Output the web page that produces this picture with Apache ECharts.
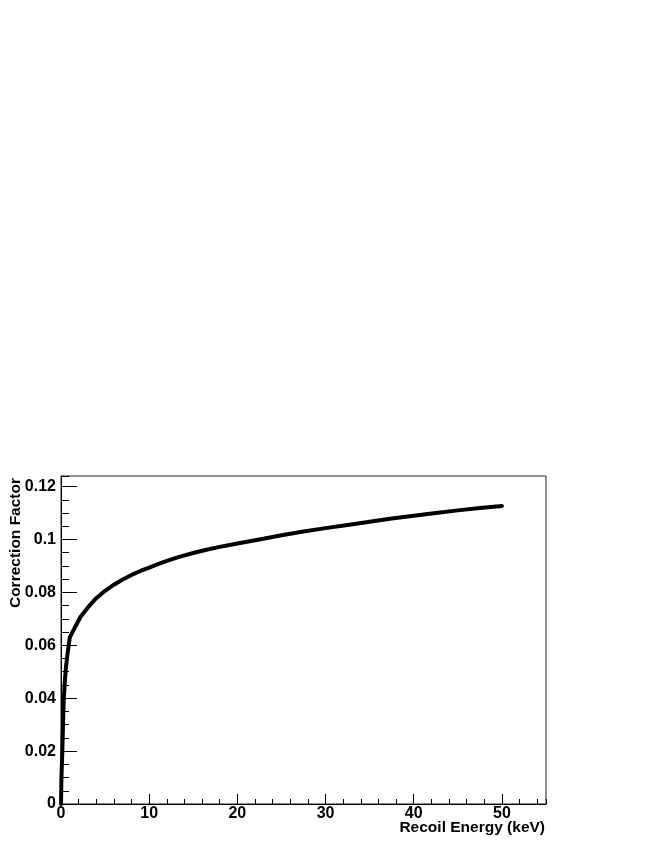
<!DOCTYPE html>
<html>
<head>
<meta charset="utf-8">
<script src="https://cdn.jsdelivr.net/npm/echarts@6/dist/echarts.min.js"></script>
<style>
  html, body { margin: 0; padding: 0; background: #fff; }
  #chart { width: 654px; height: 846px; }
</style>
</head>
<body>
<div id="chart"></div>
<script>
// recoil energy (keV) and correction factor
const energy = [0, 0.05, 0.15, 0.3, 0.45, 0.57, 0.75, 0.9, 1.0, 1.3, 1.6, 2.2, 3.1, 4, 5, 6, 7, 8, 9, 10, 11, 12, 13.5, 15, 16.5, 18, 20, 22.5, 25, 27.5, 30, 32.5, 35, 37.5, 40, 42.5, 45, 47.5, 50];
const factor = [0, 0.010, 0.020, 0.039, 0.047, 0.052, 0.057, 0.0606, 0.063, 0.065, 0.0669, 0.0707, 0.0745, 0.0778, 0.0806, 0.0829, 0.0849, 0.0866, 0.0881, 0.0894, 0.0907, 0.0919, 0.0935, 0.0949, 0.0961, 0.0972, 0.0985, 0.1000, 0.1016, 0.1030, 0.1043, 0.1055, 0.1067, 0.1079, 0.1090, 0.1100, 0.1110, 0.1119, 0.1127];

const xTitle = "Recoil Energy (keV)";
const yTitle = "Correction Factor";

const FONT = '"Liberation Sans", Arial, sans-serif';

const points = energy.map((e, i) => [e, factor[i]]);

const chart = echarts.init(document.getElementById("chart"));

const labelStyle = {
  color: "#000",
  fontFamily: FONT,
  fontWeight: "bold",
  fontSize: 16,
};

const option = {
  animation: false,
  grid: {
    left: 61,
    top: 476,
    right: 108,
    bottom: 42,
    show: true,
    borderColor: "#222",
    borderWidth: 1,
    containLabel: false,
    outerBoundsMode: "none",
  },
  xAxis: [
    {
      type: "value",
      min: 0,
      max: 55,
      interval: 10,
      position: "bottom",
      axisLine: { show: true, lineStyle: { color: "#000", width: 1 } },
      axisTick: { show: true, inside: true, length: 10, lineStyle: { color: "#000" } },
      axisLabel: { ...labelStyle, margin: 2, showMaxLabel: false },
      splitLine: { show: false },
    },
    {
      // minor ticks every 2 keV
      type: "value",
      min: 0,
      max: 55,
      interval: 2,
      position: "bottom",
      axisLine: { show: false },
      axisTick: { show: true, inside: true, length: 5, lineStyle: { color: "#000" } },
      axisLabel: { show: false },
      splitLine: { show: false },
    },
  ],
  yAxis: [
    {
      type: "value",
      min: 0,
      max: 0.124,
      interval: 0.02,
      position: "left",
      axisLine: { show: true, lineStyle: { color: "#000", width: 1 } },
      axisTick: { show: true, inside: true, length: 16, lineStyle: { color: "#000" } },
      axisLabel: { ...labelStyle, margin: 5, showMaxLabel: false },
      splitLine: { show: false },
    },
    {
      // minor ticks every 0.005
      type: "value",
      min: 0,
      max: 0.124,
      interval: 0.005,
      position: "left",
      axisLine: { show: false },
      axisTick: { show: true, inside: true, length: 8, lineStyle: { color: "#000" } },
      axisLabel: { show: false },
      splitLine: { show: false },
    },
  ],
  graphic: [
    {
      type: "text",
      x: 545,
      y: 828,
      style: {
        text: xTitle,
        align: "right",
        verticalAlign: "middle",
        font: "bold 15.5px " + FONT,
        fill: "#000",
      },
    },
    {
      type: "text",
      x: 16,
      y: 478,
      rotation: Math.PI / 2,
      style: {
        text: yTitle,
        align: "right",
        verticalAlign: "middle",
        font: "bold 15.5px " + FONT,
        fill: "#000",
      },
    },
  ],
  series: [
    {
      type: "line",
      xAxisIndex: 0,
      yAxisIndex: 0,
      data: points,
      showSymbol: false,
      smooth: false,
      lineStyle: { color: "#000", width: 4, join: "round", cap: "round" },
      clip: false,
    },
  ],
};

chart.setOption(option);
</script>
</body>
</html>
